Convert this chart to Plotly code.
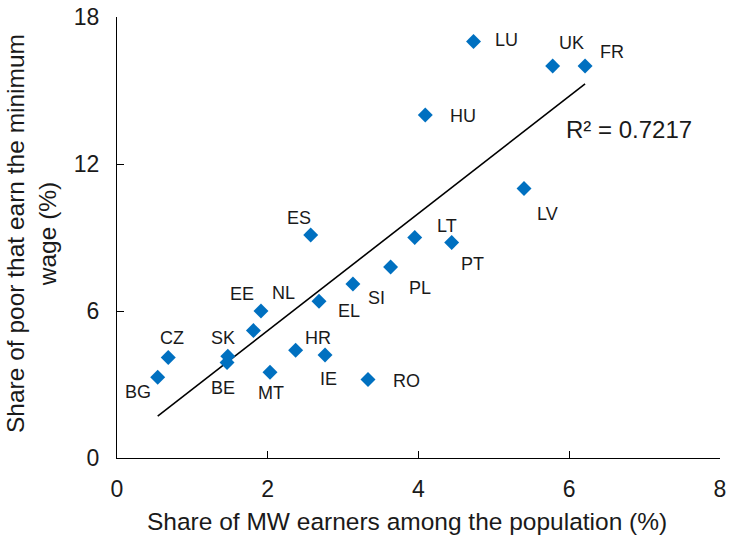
import numpy as np
import plotly.graph_objects as go

countries = ["BG", "CZ", "SK", "BE", "EE", "NL", "MT", "HR", "ES", "EL", "IE",
             "SI", "RO", "PL", "LT", "HU", "PT", "LU", "LV", "UK", "FR"]
mw_share = [0.54, 0.68, 1.47, 1.46, 1.81, 1.91, 2.03, 2.37, 2.57, 2.68, 2.76,
            3.13, 3.33, 3.63, 3.95, 4.09, 4.44, 4.73, 5.40, 5.78, 6.21]
poor_share = [3.3, 4.1, 4.15, 3.9, 5.2, 6.0, 3.5, 4.4, 9.1, 6.4, 4.2,
              7.1, 3.2, 7.8, 9.0, 14.0, 8.8, 17.0, 11.0, 16.0, 16.0]
r2_label = "R² = 0.7217"
x_ticks = [0, 2, 4, 6, 8]
y_ticks = [0, 6, 12, 18]

# label offsets in pixels (style)
offsets = {
    "BG": (-20, 15), "CZ": (4, -20), "SK": (-5, -18), "BE": (-4, 26),
    "EE": (-11, -37), "NL": (23, -18), "MT": (1, 21), "HR": (22, -12),
    "ES": (-12, -17), "EL": (30, 10), "IE": (3, 24), "SI": (24, 14),
    "RO": (38, 1), "PL": (29, 21), "LT": (32, -12), "HU": (38, 1),
    "PT": (21, 22), "LU": (33, -2), "LV": (23, 25), "UK": (19, -23),
    "FR": (27, -14),
}

FONT = "Arial, Liberation Sans, sans-serif"
xs = np.array(mw_share)
ys = np.array(poor_share)
slope, intercept = np.polyfit(xs, ys, 1)
tx = np.array([xs.min(), xs.max()])
ty = slope * tx + intercept

fig = go.Figure()
fig.add_trace(go.Scatter(x=tx, y=ty, mode="lines",
                         line=dict(color="black", width=1.6),
                         hoverinfo="skip", showlegend=False))
fig.add_trace(go.Scatter(x=mw_share, y=poor_share, mode="markers",
                         text=countries,
                         marker=dict(symbol="diamond", size=11.5, color="#0070C0",
                                     line=dict(width=0)),
                         showlegend=False))

annotations = []
for c, x, y in zip(countries, mw_share, poor_share):
    dx, dy = offsets[c]
    annotations.append(dict(x=x, y=y, xref="x", yref="y", text=c, showarrow=True,
                            arrowcolor="rgba(0,0,0,0)", ax=dx, ay=dy,
                            font=dict(family=FONT, size=18, color="#1a1a1a")))

annotations.append(dict(x=(629 - 117) / 603, y=(458 - 129) / 441, xref="paper", yref="paper",
                        text=r2_label, showarrow=False, xanchor="center", yanchor="middle",
                        font=dict(family=FONT, size=24, color="#1a1a1a")))
annotations.append(dict(x=(31 - 117) / 603, y=(458 - 234) / 441, xref="paper", yref="paper",
                        text="Share of poor that earn the minimum<br>wage (%)", textangle=-90,
                        showarrow=False, xanchor="center", yanchor="middle",
                        font=dict(family=FONT, size=24.5, color="#1a1a1a")))
annotations.append(dict(x=(407 - 117) / 603, y=(458 - 521) / 441, xref="paper", yref="paper",
                        text="Share of MW earners among the population (%)",
                        showarrow=False, xanchor="center", yanchor="middle",
                        font=dict(family=FONT, size=24.5, color="#1a1a1a")))

fig.update_layout(
    width=733, height=540,
    margin=dict(l=117, r=13, t=17, b=82, autoexpand=False),
    plot_bgcolor="white", paper_bgcolor="white",
    annotations=annotations,
    xaxis=dict(range=[0, 8], tickvals=x_ticks, showgrid=False, zeroline=False,
               showline=True, linecolor="black", linewidth=1.3, automargin=False,
               ticks="inside", ticklen=7, tickcolor="black", tickwidth=1.3,
               tickfont=dict(family=FONT, size=23, color="#1a1a1a"),
               ticklabelstandoff=10),
    yaxis=dict(range=[0, 18], tickvals=y_ticks, showgrid=False, zeroline=False,
               showline=True, linecolor="black", linewidth=1.3, automargin=False,
               ticks="inside", ticklen=7, tickcolor="black", tickwidth=1.3,
               tickfont=dict(family=FONT, size=23, color="#1a1a1a"),
               ticklabelstandoff=12),
)

fig.write_html("out.html",
               config={"displayModeBar": False},
               post_script="document.body.style.margin='0';document.body.style.overflow='hidden';")
